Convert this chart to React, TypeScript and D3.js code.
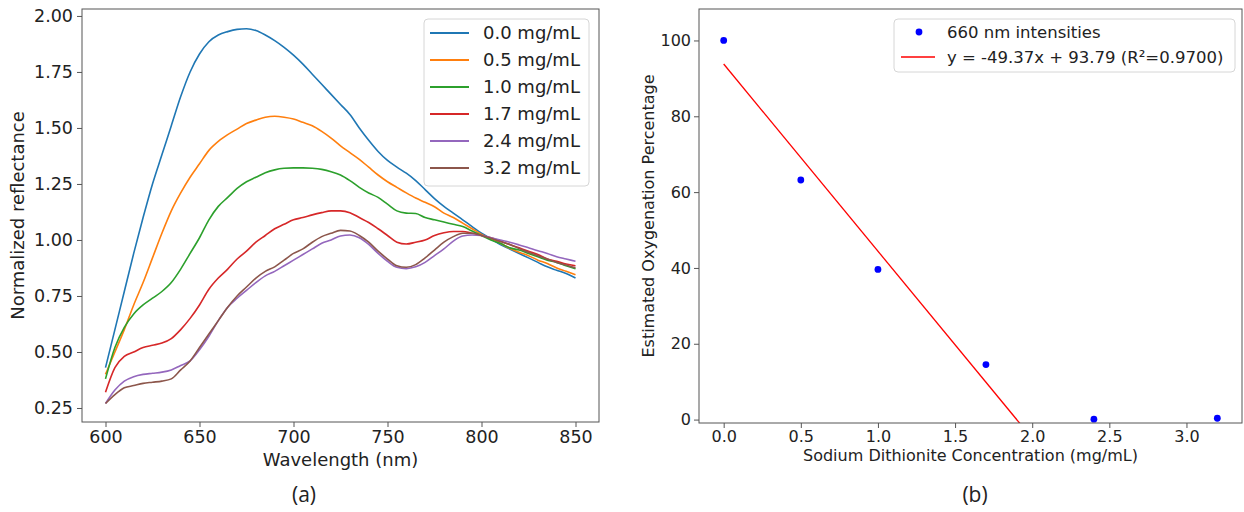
import React, { useEffect, useRef } from "react";
import * as d3 from "d3";

// wavelength grid (nm) for panel (a)
const wavelengths = [
  600, 605, 610, 615, 620, 625, 630, 635, 640, 645, 650, 655, 660, 665, 670, 675, 680,
  685, 690, 695, 700, 705, 710, 715, 720, 725, 730, 735, 740, 745, 750, 755, 760, 765,
  770, 775, 780, 785, 790, 795, 800, 805, 810, 815, 820, 825, 830, 835, 840, 845, 850,
];

const conc00 = [
  0.43, 0.6, 0.77, 0.94, 1.1, 1.25, 1.38, 1.51, 1.64, 1.75, 1.83, 1.885, 1.915, 1.93, 1.94, 1.943, 1.935,
  1.915, 1.89, 1.86, 1.825, 1.785, 1.74, 1.695, 1.65, 1.605, 1.56, 1.5, 1.445, 1.395, 1.355, 1.325, 1.298, 1.265,
  1.225, 1.185, 1.15, 1.12, 1.09, 1.06, 1.03, 1.005, 0.98, 0.96, 0.94, 0.92, 0.9, 0.88, 0.865, 0.85, 0.83,
];
const conc05 = [
  0.4, 0.5, 0.6, 0.71, 0.81, 0.92, 1.03, 1.13, 1.21, 1.28, 1.34, 1.4, 1.44, 1.47, 1.495, 1.52, 1.535,
  1.548, 1.552, 1.548, 1.54, 1.525, 1.51, 1.485, 1.455, 1.42, 1.39, 1.36, 1.325, 1.29, 1.26, 1.235, 1.21, 1.187,
  1.168, 1.148, 1.12, 1.1, 1.075, 1.05, 1.025, 1.005, 0.985, 0.963, 0.945, 0.93, 0.91, 0.895, 0.875, 0.86, 0.845,
];
const conc10 = [
  0.38, 0.52, 0.61, 0.67, 0.71, 0.74, 0.77, 0.81, 0.87, 0.94, 1.01, 1.09, 1.15, 1.19, 1.23, 1.26, 1.28,
  1.3, 1.313, 1.32, 1.322, 1.322, 1.32, 1.315, 1.305, 1.29, 1.265, 1.235, 1.21, 1.19, 1.16, 1.13, 1.12, 1.118,
  1.1, 1.09, 1.08, 1.07, 1.06, 1.04, 1.02, 1.0, 0.985, 0.965, 0.955, 0.94, 0.925, 0.91, 0.9, 0.885, 0.872,
];
const conc17 = [
  0.32, 0.43, 0.48, 0.5, 0.52, 0.53, 0.54, 0.56, 0.6, 0.65, 0.71, 0.78, 0.83, 0.87, 0.915, 0.95, 0.99,
  1.02, 1.05, 1.07, 1.09, 1.1, 1.112, 1.122, 1.13, 1.13, 1.122, 1.1, 1.078, 1.05, 1.02, 0.99, 0.982, 0.99,
  1.0, 1.02, 1.032, 1.038, 1.038, 1.03, 1.02, 1.01, 0.995, 0.98, 0.965, 0.95, 0.935, 0.915, 0.905, 0.893, 0.885,
];
const conc24 = [
  0.27, 0.33, 0.37, 0.39, 0.4, 0.405, 0.41, 0.42, 0.44, 0.46, 0.51, 0.57, 0.64, 0.7, 0.74, 0.775, 0.81,
  0.84, 0.86, 0.885, 0.91, 0.935, 0.96, 0.985, 1.0, 1.018, 1.022, 1.01, 0.98, 0.94, 0.905, 0.878, 0.872, 0.88,
  0.9, 0.93, 0.96, 0.995, 1.018, 1.022, 1.02, 1.01, 1.0, 0.99, 0.978, 0.965, 0.952, 0.94, 0.925, 0.915, 0.905,
];
const conc32 = [
  0.27, 0.31, 0.34, 0.35, 0.36, 0.365, 0.37, 0.38, 0.42, 0.46, 0.52, 0.58, 0.64, 0.7, 0.75, 0.79, 0.83,
  0.86, 0.88, 0.91, 0.94, 0.96, 0.99, 1.015, 1.03, 1.043, 1.04, 1.02, 0.99, 0.95, 0.915, 0.885, 0.878, 0.89,
  0.92, 0.955, 0.99, 1.015, 1.03, 1.03, 1.02, 1.008, 0.993, 0.98, 0.962, 0.945, 0.93, 0.915, 0.9, 0.888, 0.876,
];

const seriesLabels = ["0.0 mg/mL", "0.5 mg/mL", "1.0 mg/mL", "1.7 mg/mL", "2.4 mg/mL", "3.2 mg/mL"];
const seriesValues = [conc00, conc05, conc10, conc17, conc24, conc32];
const seriesColors = ["#1f77b4", "#ff7f0e", "#2ca02c", "#d62728", "#9467bd", "#8c564b"];

const specTicksX = [600, 650, 700, 750, 800, 850];
const specTicksY = [0.25, 0.5, 0.75, 1.0, 1.25, 1.5, 1.75, 2.0];

// panel (b)
const dithionite = [0.0, 0.5, 1.0, 1.7, 2.4, 3.2];
const oxygenation = [100.0, 63.2, 39.6, 14.5, 0.1, 0.35];
const fitSlope = -49.37;
const fitIntercept = 93.79;
const fitLabel = "y = -49.37x + 93.79 (R\u00b2=0.9700)";
const oxyTicksX = [0, 0.5, 1.0, 1.5, 2.0, 2.5, 3.0];
const oxyTicksY = [0, 20, 40, 60, 80, 100];

const FONT = "'DejaVu Sans', sans-serif";
const TEXT = "#222";
const FRAME = "#555";

export default function App() {
  const svgRef = useRef<SVGSVGElement | null>(null);

  useEffect(() => {
    if (!svgRef.current) return;
    const width = 1244;
    const height = 512;
    const svg = d3.select(svgRef.current);
    svg.selectAll("*").remove();
    svg.attr("width", width).attr("height", height).attr("viewBox", `0 0 ${width} ${height}`);
    svg.append("rect").attr("width", width).attr("height", height).attr("fill", "#fff");

    // ---------- panel (a) ----------
    const a = { left: 82, right: 599, top: 9, bottom: 422 };
    const xA = d3.scaleLinear().domain([587.5, 862.5]).range([a.left, a.right]);
    const yA = d3.scaleLinear().domain([0.1875, 2.031]).range([a.bottom, a.top]);

    const gA = svg.append("g");
    gA.append("clipPath")
      .attr("id", "clipA")
      .append("rect")
      .attr("x", a.left)
      .attr("y", a.top)
      .attr("width", a.right - a.left)
      .attr("height", a.bottom - a.top);

    const line = d3
      .line<number>()
      .x((_, i) => xA(wavelengths[i]))
      .y((d) => yA(d))
      .curve(d3.curveMonotoneX);

    gA.append("g")
      .attr("clip-path", "url(#clipA)")
      .selectAll("path")
      .data(seriesValues)
      .join("path")
      .attr("d", (d) => line(d))
      .attr("fill", "none")
      .attr("stroke", (_, i) => seriesColors[i])
      .attr("stroke-width", 1.6)
      .attr("stroke-linejoin", "round");

    const axA = gA.append("g").attr("transform", `translate(0,${a.bottom})`).call(
      d3.axisBottom(xA).tickValues(specTicksX).tickFormat(d3.format("d")).tickSize(5).tickPadding(4)
    );
    const ayA = gA.append("g").attr("transform", `translate(${a.left},0)`).call(
      d3.axisLeft(yA).tickValues(specTicksY).tickFormat(d3.format(".2f")).tickSize(5).tickPadding(4)
    );
    [axA, ayA].forEach((ax) => {
      ax.select(".domain").remove();
      ax.selectAll("line").attr("stroke", FRAME);
      ax.selectAll("text").attr("font-family", FONT).attr("font-size", 17.5).attr("fill", TEXT);
    });

    gA.append("rect")
      .attr("x", a.left)
      .attr("y", a.top)
      .attr("width", a.right - a.left)
      .attr("height", a.bottom - a.top)
      .attr("fill", "none")
      .attr("stroke", FRAME)
      .attr("stroke-width", 1);

    gA.append("text")
      .attr("x", (a.left + a.right) / 2)
      .attr("y", 466)
      .attr("text-anchor", "middle")
      .attr("font-family", FONT)
      .attr("font-size", 18)
      .attr("fill", TEXT)
      .text("Wavelength (nm)");
    gA.append("text")
      .attr("transform", `translate(24,${(a.top + a.bottom) / 2}) rotate(-90)`)
      .attr("text-anchor", "middle")
      .attr("font-family", FONT)
      .attr("font-size", 18)
      .attr("fill", TEXT)
      .text("Normalized reflectance");

    // legend (a)
    const legA = gA.append("g");
    legA.append("rect")
      .attr("x", 424)
      .attr("y", 19)
      .attr("width", 165)
      .attr("height", 167)
      .attr("rx", 4)
      .attr("fill", "#fff")
      .attr("fill-opacity", 0.85)
      .attr("stroke", "#d6d6d6");
    seriesLabels.forEach((lab, i) => {
      const cy = 33 + i * 27;
      legA.append("line")
        .attr("x1", 430)
        .attr("x2", 469)
        .attr("y1", cy)
        .attr("y2", cy)
        .attr("stroke", seriesColors[i])
        .attr("stroke-width", 2);
      legA.append("text")
        .attr("x", 483)
        .attr("y", cy)
        .attr("dy", "0.36em")
        .attr("font-family", FONT)
        .attr("font-size", 18)
        .attr("fill", TEXT)
        .text(lab);
    });

    // ---------- panel (b) ----------
    const b = { left: 699, right: 1242, top: 9, bottom: 423 };
    const xB = d3.scaleLinear().domain([-0.16, 3.36]).range([b.left, b.right]);
    const yB = d3.scaleLinear().domain([-0.9, 108.3]).range([b.bottom, b.top]);

    const gB = svg.append("g");
    gB.append("clipPath")
      .attr("id", "clipB")
      .append("rect")
      .attr("x", b.left)
      .attr("y", b.top)
      .attr("width", b.right - b.left)
      .attr("height", b.bottom - b.top);

    const fitX = [dithionite[0], dithionite[dithionite.length - 1]];
    gB.append("line")
      .attr("clip-path", "url(#clipB)")
      .attr("x1", xB(fitX[0]))
      .attr("y1", yB(fitSlope * fitX[0] + fitIntercept))
      .attr("x2", xB(fitX[1]))
      .attr("y2", yB(fitSlope * fitX[1] + fitIntercept))
      .attr("stroke", "#ff0000")
      .attr("stroke-width", 1.3);

    gB.append("g")
      .selectAll("circle")
      .data(dithionite)
      .join("circle")
      .attr("cx", (d) => xB(d))
      .attr("cy", (_, i) => yB(oxygenation[i]))
      .attr("r", 3.4)
      .attr("fill", "#0000ff");

    const axB = gB.append("g").attr("transform", `translate(0,${b.bottom})`).call(
      d3.axisBottom(xB).tickValues(oxyTicksX).tickFormat(d3.format(".1f")).tickSize(5).tickPadding(3)
    );
    const ayB = gB.append("g").attr("transform", `translate(${b.left},0)`).call(
      d3.axisLeft(yB).tickValues(oxyTicksY).tickFormat(d3.format("d")).tickSize(5).tickPadding(3)
    );
    [axB, ayB].forEach((ax) => {
      ax.select(".domain").remove();
      ax.selectAll("line").attr("stroke", FRAME);
      ax.selectAll("text").attr("font-family", FONT).attr("font-size", 16).attr("fill", TEXT);
    });

    gB.append("rect")
      .attr("x", b.left)
      .attr("y", b.top)
      .attr("width", b.right - b.left)
      .attr("height", b.bottom - b.top)
      .attr("fill", "none")
      .attr("stroke", FRAME)
      .attr("stroke-width", 1);

    gB.append("text")
      .attr("x", (b.left + b.right) / 2)
      .attr("y", 461)
      .attr("text-anchor", "middle")
      .attr("font-family", FONT)
      .attr("font-size", 16)
      .attr("fill", TEXT)
      .text("Sodium Dithionite Concentration (mg/mL)");
    gB.append("text")
      .attr("transform", `translate(654,${(b.top + b.bottom) / 2}) rotate(-90)`)
      .attr("text-anchor", "middle")
      .attr("font-family", FONT)
      .attr("font-size", 16)
      .attr("fill", TEXT)
      .text("Estimated Oxygenation Percentage");

    // legend (b)
    const legB = gB.append("g");
    legB.append("rect")
      .attr("x", 894)
      .attr("y", 19)
      .attr("width", 341)
      .attr("height", 53)
      .attr("rx", 4)
      .attr("fill", "#fff")
      .attr("fill-opacity", 0.85)
      .attr("stroke", "#d6d6d6");
    legB.append("circle").attr("cx", 919).attr("cy", 32).attr("r", 3.4).attr("fill", "#0000ff");
    legB.append("line")
      .attr("x1", 901)
      .attr("x2", 935)
      .attr("y1", 57)
      .attr("y2", 57)
      .attr("stroke", "#ff0000")
      .attr("stroke-width", 1.5);
    [
      { y: 32, t: "660 nm intensities" },
      { y: 57, t: fitLabel },
    ].forEach((r) => {
      legB.append("text")
        .attr("x", 947)
        .attr("y", r.y)
        .attr("dy", "0.36em")
        .attr("font-family", FONT)
        .attr("font-size", 16.5)
        .attr("fill", TEXT)
        .text(r.t);
    });

    // panel captions
    [
      { x: 304, t: "(a)" },
      { x: 975, t: "(b)" },
    ].forEach((c) => {
      svg.append("text")
        .attr("x", c.x)
        .attr("y", 502)
        .attr("text-anchor", "middle")
        .attr("font-family", "'Open Sans', sans-serif")
        .attr("font-size", 21)
        .attr("fill", TEXT)
        .text(c.t);
    });
  }, []);

  return (
    <div style={{ position: "absolute", left: 0, top: 0 }}>
      <svg ref={svgRef} style={{ display: "block" }} />
    </div>
  );
}
